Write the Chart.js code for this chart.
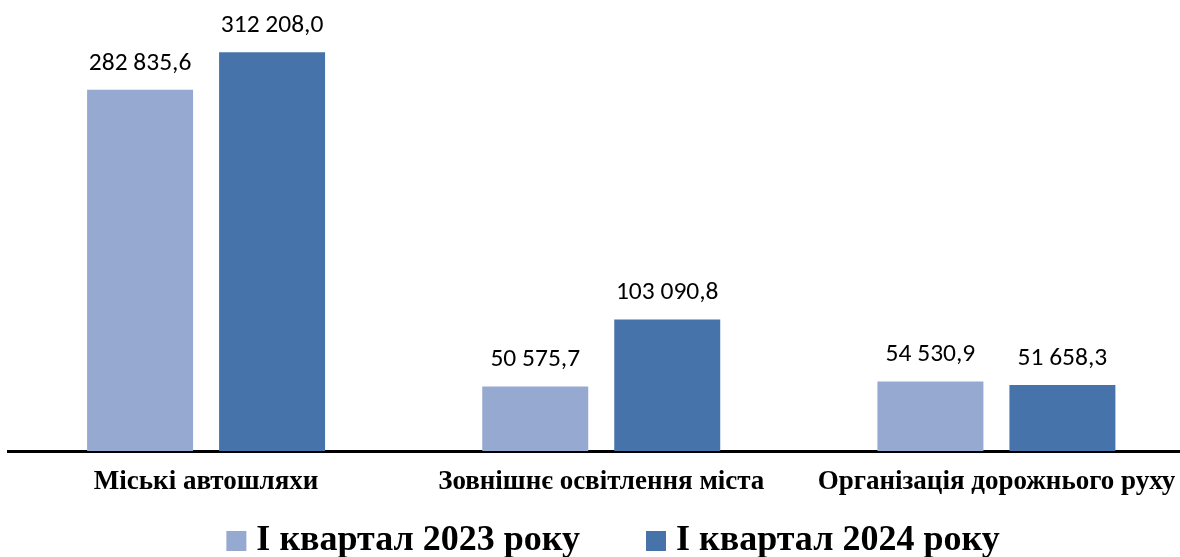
<!DOCTYPE html>
<html>
<head>
<meta charset="utf-8">
<script src="https://cdn.jsdelivr.net/npm/chart.js@4.4.1/dist/chart.umd.min.js"></script>
<style>
  html, body { margin: 0; padding: 0; background: #ffffff; overflow: hidden; width: 1180px; height: 557px; }
  #wrap { position: relative; width: 1194px; height: 557px; }
  canvas { display: block; }
</style>
</head>
<body>
<div id="wrap"><canvas id="c" width="1194" height="557"></canvas></div>
<script>
const categories = ['Міські автошляхи', 'Зовнішнє освітлення міста', 'Організація дорожнього руху'];
const seriesNames = ['І квартал 2023 року', 'І квартал 2024 року'];
const values2023 = [282835.6, 50575.7, 54530.9];
const values2024 = [312208.0, 103090.8, 51658.3];
const seriesColors = ['#95A9D1', '#4673A9'];

function fmt(v) {
  const parts = v.toFixed(1).split('.');
  return parts[0].replace(/\B(?=(\d{3})+(?!\d))/g, ' ') + ',' + parts[1];
}

const LABEL_FONT = '25.5px Carlito, Calibri, "Liberation Sans", sans-serif';
const SERIF = '"Times New Roman", "Liberation Serif", serif';

const valueLabels = {
  id: 'valueLabels',
  afterDatasetsDraw(chart) {
    const ctx = chart.ctx;
    ctx.save();
    ctx.font = LABEL_FONT;
    ctx.fillStyle = '#000000';
    ctx.textAlign = 'center';
    ctx.textBaseline = 'alphabetic';
    chart.data.datasets.forEach((ds, di) => {
      const meta = chart.getDatasetMeta(di);
      meta.data.forEach((bar, i) => {
        ctx.fillText(fmt(ds.data[i]), bar.x, bar.y - 20);
      });
    });
    ctx.restore();
  }
};

const customLegend = {
  id: 'customLegend',
  afterDraw(chart) {
    const ctx = chart.ctx;
    ctx.save();
    ctx.font = 'bold 36px ' + SERIF;
    ctx.textBaseline = 'alphabetic';
    ctx.textAlign = 'left';
    const box = 20, gapText = 10, gapItem = 66;
    const items = chart.data.datasets.map(ds => ({ text: ds.label, color: ds.backgroundColor, w: ctx.measureText(ds.label).width }));
    let total = 0;
    items.forEach((it, i) => { total += box + gapText + it.w + (i > 0 ? gapItem : 0); });
    let x = 613 - total / 2;
    const boxTop = 531, baseY = 550;
    items.forEach((it) => {
      ctx.fillStyle = it.color;
      ctx.fillRect(x, boxTop, box, box);
      ctx.fillStyle = '#000000';
      ctx.fillText(it.text, x + box + gapText, baseY);
      x += box + gapText + it.w + gapItem;
    });
    ctx.restore();
  }
};

new Chart(document.getElementById('c'), {
  type: 'bar',
  data: {
    labels: categories,
    datasets: [
      { label: seriesNames[0], data: values2023, backgroundColor: seriesColors[0], borderWidth: 0 },
      { label: seriesNames[1], data: values2024, backgroundColor: seriesColors[1], borderWidth: 0 }
    ]
  },
  options: {
    responsive: false,
    animation: false,
    devicePixelRatio: 1,
    layout: { padding: { left: 8.5, right: 0, top: 4, bottom: 43.5 } },
    datasets: { bar: { categoryPercentage: 0.668, barPercentage: 0.803 } },
    plugins: {
      legend: { display: false },
      tooltip: { enabled: false }
    },
    scales: {
      x: {
        grid: { display: false, drawTicks: false },
        border: { display: true, color: '#000000', width: 3 },
        ticks: { color: '#000000', padding: 15, font: { family: SERIF, size: 27, weight: 'bold' }, maxRotation: 0, autoSkip: false }
      },
      y: {
        display: false,
        min: 0,
        max: 350000
      }
    }
  },
  plugins: [valueLabels, customLegend]
});
</script>
</body>
</html>
